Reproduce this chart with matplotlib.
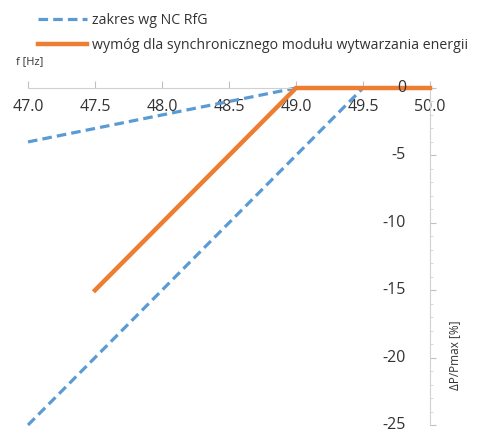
import matplotlib.pyplot as plt
from matplotlib.ticker import MultipleLocator

plt.rcParams['font.family'] = ['Open Sans', 'DejaVu Sans']

# data
f_nc1 = [47.0, 49.0, 50.0]
p_nc1 = [-4.0, 0.0, 0.0]
f_nc2 = [47.0, 49.5, 50.0]
p_nc2 = [-25.0, 0.0, 0.0]
f_req = [47.5, 49.0, 50.0]
p_req = [-15.0, 0.0, 0.0]
x_ticks = [47.0, 47.5, 48.0, 48.5, 49.0, 49.5, 50.0]
y_ticks = [0, -5, -10, -15, -20, -25]

blue = "#5B9BD5"
orange = "#ED7D31"

fig = plt.figure(figsize=(4.78, 4.34), dpi=100)
ax = fig.add_axes([28 / 478, 1 - 425 / 434, (430 - 28) / 478, (425 - 88) / 434])

l1, = ax.plot(f_nc1, p_nc1, color=blue, lw=2.3, ls=(0, (3, 1.6)), clip_on=False,
              label="zakres wg NC RfG")
ax.plot(f_nc2, p_nc2, color=blue, lw=2.3, ls=(0, (3, 1.6)), clip_on=False)
l2, = ax.plot(f_req, p_req, color=orange, lw=3.2, clip_on=False, zorder=3,
              label="wymóg dla synchronicznego modułu wytwarzania energii")

ax.set_xlim(47.0, 50.0)
ax.set_ylim(-25, 0)

# axes cross at (50, 0)
for s in ["top", "left"]:
    ax.spines[s].set_visible(False)
ax.spines["bottom"].set_position(("data", 0))
ax.spines["right"].set_position(("data", 50))
ax.spines["bottom"].set_color("#d0d0d0")
ax.spines["right"].set_color("#d0d0d0")
ax.yaxis.set_ticks_position("right")

ax.set_xticks(x_ticks)
ax.set_xticklabels([f"{v:.1f}" for v in x_ticks])
ax.set_yticks(y_ticks)
ax.yaxis.set_minor_locator(MultipleLocator(1))
ax.tick_params(axis="x", direction="in", length=5, color="#c0c0c0", labelsize=11.5,
               labelcolor="#333333", pad=8)
ax.tick_params(axis="y", which="major", direction="out", length=4, color="#c0c0c0",
               labelsize=11.5, labelcolor="#333333", labelright=False, labelleft=False)
ax.tick_params(axis="y", which="minor", direction="out", length=2, color="#d0d0d0")
for v in y_ticks:
    ax.text(49.82, v, f"{v}", ha="right", va="center", fontsize=11.5, color="#333333")

fig.text(16 / 478, 1 - 62 / 434, "f [Hz]", fontsize=8, color="#333333", va="center")
fig.text(455 / 478, 1 - 355 / 434, "ΔP/Pmax [%]", fontsize=8.5, color="#333333",
         rotation=90, ha="center", va="center")

fig.legend(handles=[l1, l2], loc="upper left", bbox_to_anchor=(25 / 478, 1.0),
           frameon=False, fontsize=10.2, handlelength=3.5, labelspacing=0.75,
           handletextpad=0.3, labelcolor="#333333")

fig.savefig("out.png", dpi=100)
